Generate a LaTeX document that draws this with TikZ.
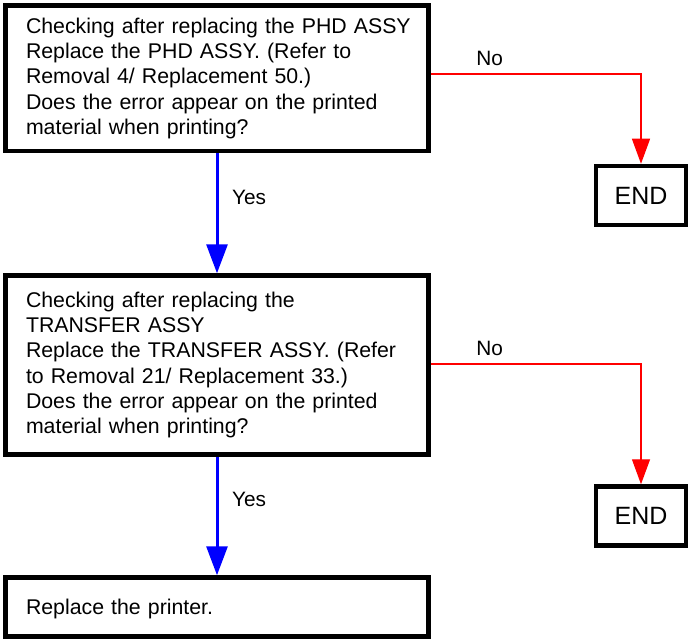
\documentclass[tikz,border=0pt]{standalone}
\usepackage{fontspec}
\setmainfont{Liberation Sans}
\usetikzlibrary{arrows.meta}
\begin{document}
\begin{tikzpicture}[x=1pt,y=-1pt,
  box/.style={draw=black, line width=4.5pt, fill=white, minimum width=423pt,
    inner xsep=20.5pt, inner ysep=0pt, text width=382pt, align=left,
    font=\fontsize{21.3}{25.3}\selectfont},
  endbox/.style={draw=black, line width=4.5pt, fill=white, minimum width=90pt,
    minimum height=59pt, inner sep=0pt, font=\fontsize{25}{30}\selectfont},
  yesarrow/.style={draw=blue, line width=3pt, -{Triangle[width=21pt,length=29pt]}},
  noarrow/.style={draw=red, line width=1.3pt, -{Triangle[width=18pt,length=25pt]}},
  lbl/.style={inner sep=0pt, font=\fontsize{20.8}{24}\selectfont}]
\useasboundingbox (0,0) rectangle (688,639);

\node[box, minimum height=145.5pt] (b1) at (217,78.25)
  {\mbox{Checking after replacing the PHD ASSY}\\
   \mbox{Replace the PHD ASSY. (Refer to}\\
   \mbox{Removal 4/ Replacement 50.)}\\
   \mbox{Does the error appear on the printed}\\
   \mbox{material when printing?}};
\node[box, minimum height=179pt] (b2) at (217,365)
  {\mbox{Checking after replacing the}\\
   \mbox{TRANSFER ASSY}\\
   \mbox{Replace the TRANSFER ASSY. (Refer}\\
   \mbox{to Removal 21/ Replacement 33.)}\\
   \mbox{Does the error appear on the printed}\\
   \mbox{material when printing?}};
\node[box, minimum height=59pt, text depth=-1pt] (b3) at (217,607)
  {Replace the printer.};

\node[endbox] (e1) at (641,195.5) {END};
\node[endbox] (e2) at (641,516) {END};

\draw[yesarrow] (b1.south) -- (b2.north);
\draw[yesarrow] (b2.south) -- (b3.north);
\draw[noarrow] ([yshift=4.25pt]b1.east) -| (e1.north);
\draw[noarrow] ([yshift=1pt]b2.east) -| (e2.north);

\node[lbl] (yes1) at (249,197.5) {Yes};
\node[lbl] (yes2) at (249,499) {Yes};
\node[lbl] (no1) at (489.7,58.8) {No};
\node[lbl] (no2) at (489.7,348.3) {No};
\end{tikzpicture}
\end{document}
